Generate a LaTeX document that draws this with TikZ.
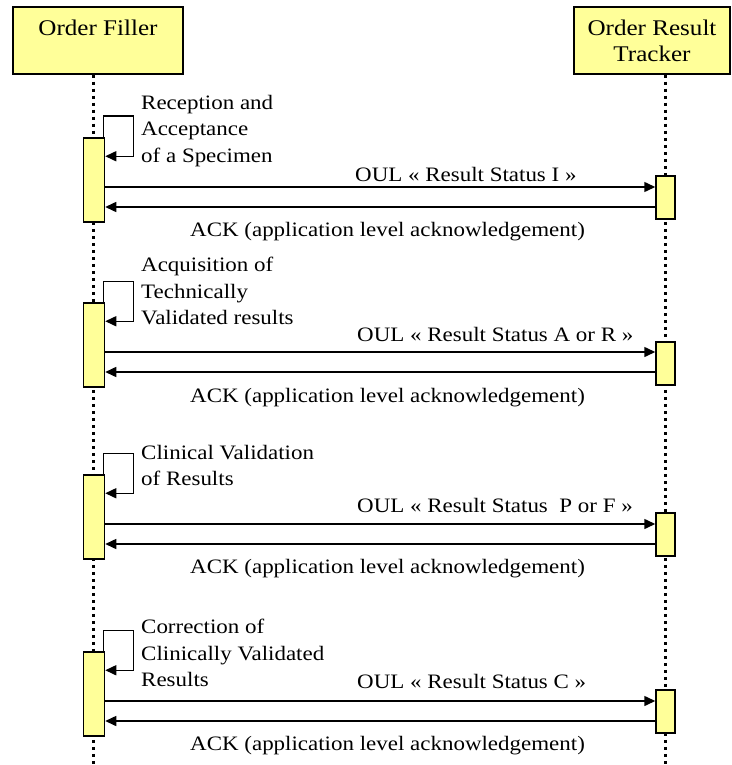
\documentclass[tikz,border=0pt]{standalone}
\usepackage{fontspec}
\setmainfont{Liberation Serif}[FakeStretch=1.12]
\usetikzlibrary{arrows.meta,calc}
\definecolor{noteyellow}{RGB}{255,255,153}
\begin{document}
\begin{tikzpicture}[x=1pt,y=-1pt,>={Triangle[length=11pt,width=10pt]}, font=\fontsize{20.5}{26.5}\selectfont, line join=miter,
	actor/.style={draw,line width=1.5pt,fill=noteyellow,align=center,inner sep=0pt,minimum height=67pt,font=\fontsize{22.4}{26}\selectfont},
	active/.style={draw,line width=1.5pt,fill=noteyellow,inner sep=0pt},
	lifeline/.style={line width=3pt,dash pattern=on 3pt off 4pt},
	msg/.style={->,line width=1.5pt},
	note/.style={align=left,anchor=north west,inner sep=0pt}]
	\def\lx{93} \def\rx{665} % x of the lifelines
	\useasboundingbox (0,0) rectangle (731,765);
	\node[actor,minimum width=170pt] (filler) at (98,40.5) {Order Filler\\ \mbox{}};
	\node[actor,minimum width=156pt] (tracker) at (652,40.5) {Order Result\\Tracker};
	\coordinate (fillerend) at (\lx,765);
	\coordinate (trackerend) at (\rx,765);
	\draw[lifeline] (fillerend |- filler.south) -- (fillerend);
	\draw[lifeline] (trackerend |- tracker.south) -- (trackerend);
	% specimen accepted
	\node[active,minimum width=21pt,minimum height=84pt] (f1) at (94,180) {};
	\node[active,minimum width=19pt,minimum height=43pt] (t1) at (665.5,197.5) {};
	\draw[msg] ([xshift=-2pt]f1.north east) |- ++(30,-21) |- ($(f1.north east)+(0,19)$);
	\node[note] (n1) at (141,95) {Reception and\\Acceptance\\of a Specimen};
	\coordinate (oul1) at (0,187); \coordinate (ack1) at (0,207);
	\draw[msg] (f1.east |- oul1) -- (t1.west |- oul1);
	\draw[msg] (t1.west |- ack1) -- (f1.east |- ack1);
	\node[anchor=base west,inner sep=0pt] (m1) at (355,181) {OUL « Result Status I »};
	\node[anchor=base west,inner sep=0pt] (a1) at (190,236) {ACK (application level acknowledgement)};
	% technically validated
	\node[active,minimum width=21pt,minimum height=84pt] (f2) at (94,345) {};
	\node[active,minimum width=19pt,minimum height=43pt] (t2) at (665.5,363.5) {};
	\draw[msg] ([xshift=-2pt]f2.north east) |- ++(30,-21) |- ($(f2.north east)+(0,19)$);
	\node[note] (n2) at (141,257) {Acquisition of\\Technically\\Validated results};
	\coordinate (oul2) at (0,352); \coordinate (ack2) at (0,372);
	\draw[msg] (f2.east |- oul2) -- (t2.west |- oul2);
	\draw[msg] (t2.west |- ack2) -- (f2.east |- ack2);
	\node[anchor=base west,inner sep=0pt] (m2) at (357,341) {OUL « Result Status A or R »};
	\node[anchor=base west,inner sep=0pt] (a2) at (190,402) {ACK (application level acknowledgement)};
	% clinically validated
	\node[active,minimum width=21pt,minimum height=84pt] (f3) at (94,517) {};
	\node[active,minimum width=19pt,minimum height=43pt] (t3) at (665.5,534.5) {};
	\draw[msg] ([xshift=-2pt]f3.north east) |- ++(30,-21) |- ($(f3.north east)+(0,19)$);
	\node[note] (n3) at (141,445) {Clinical Validation\\of Results};
	\coordinate (oul3) at (0,524); \coordinate (ack3) at (0,544);
	\draw[msg] (f3.east |- oul3) -- (t3.west |- oul3);
	\draw[msg] (t3.west |- ack3) -- (f3.east |- ack3);
	\node[anchor=base west,inner sep=0pt] (m3) at (357,512) {OUL « Result Status~ P or F »};
	\node[anchor=base west,inner sep=0pt] (a3) at (190,573) {ACK (application level acknowledgement)};
	% correction
	\node[active,minimum width=21pt,minimum height=84pt] (f4) at (94,694) {};
	\node[active,minimum width=19pt,minimum height=43pt] (t4) at (665.5,711.5) {};
	\draw[msg] ([xshift=-2pt]f4.north east) |- ++(30,-21) |- ($(f4.north east)+(0,19)$);
	\node[note] (n4) at (141,619) {Correction of\\Clinically Validated\\Results};
	\coordinate (oul4) at (0,701); \coordinate (ack4) at (0,721);
	\draw[msg] (f4.east |- oul4) -- (t4.west |- oul4);
	\draw[msg] (t4.west |- ack4) -- (f4.east |- ack4);
	\node[anchor=base west,inner sep=0pt] (m4) at (357,688) {OUL « Result Status C »};
	\node[anchor=base west,inner sep=0pt] (a4) at (190,750) {ACK (application level acknowledgement)};
\end{tikzpicture}
\end{document}
